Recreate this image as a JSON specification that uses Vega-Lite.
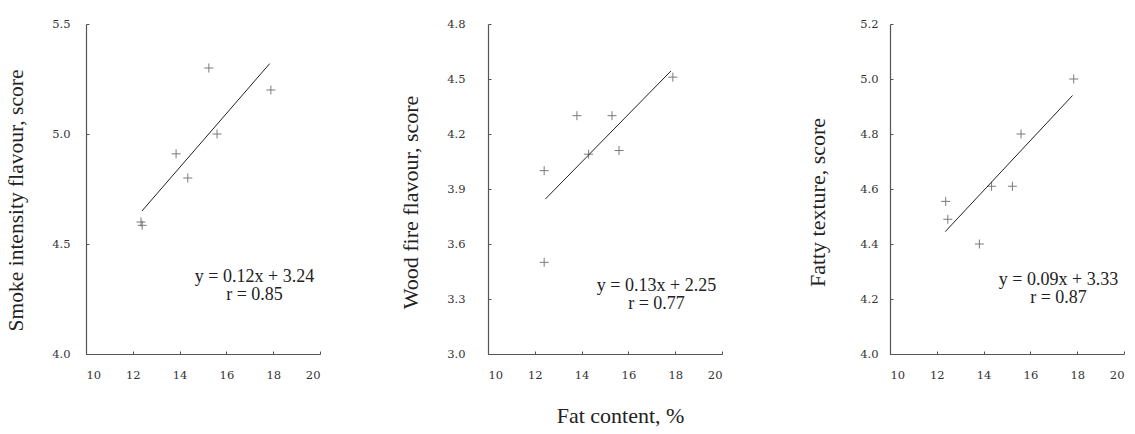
{
  "$schema": "https://vega.github.io/schema/vega-lite/v6.json",
  "background": "white",
  "padding": {"left": 5, "top": 18, "right": 2, "bottom": 2},
  "spacing": 168,
  "bounds": "flush",
  "config": {
    "view": {"stroke": null},
    "axis": {
      "grid": false,
      "domainColor": "#555",
      "domainWidth": 1.2,
      "tickColor": "#555",
      "tickSize": -3,
      "labelFont": "DejaVu Serif",
      "labelFontSize": 11.5,
      "labelColor": "#333",
      "titleFont": "Liberation Serif",
      "titleFontWeight": "normal",
      "titleColor": "#222"
    }
  },
  "datasets": {
    "pts": [
      {"panel": 1, "fat": 12.35, "score": 4.60},
      {"panel": 1, "fat": 12.4, "score": 4.585},
      {"panel": 1, "fat": 13.85, "score": 4.91},
      {"panel": 1, "fat": 14.35, "score": 4.80},
      {"panel": 1, "fat": 15.25, "score": 5.30},
      {"panel": 1, "fat": 15.6, "score": 5.00},
      {"panel": 1, "fat": 17.9, "score": 5.20},
      {"panel": 2, "fat": 12.4, "score": 4.00},
      {"panel": 2, "fat": 12.4, "score": 3.50},
      {"panel": 2, "fat": 13.8, "score": 4.30},
      {"panel": 2, "fat": 14.3, "score": 4.09},
      {"panel": 2, "fat": 15.3, "score": 4.30},
      {"panel": 2, "fat": 15.6, "score": 4.11},
      {"panel": 2, "fat": 17.9, "score": 4.51},
      {"panel": 3, "fat": 12.38, "score": 4.555},
      {"panel": 3, "fat": 12.47, "score": 4.49},
      {"panel": 3, "fat": 13.82, "score": 4.40},
      {"panel": 3, "fat": 14.34, "score": 4.61},
      {"panel": 3, "fat": 15.23, "score": 4.61},
      {"panel": 3, "fat": 15.6, "score": 4.80},
      {"panel": 3, "fat": 17.85, "score": 5.00}
    ],
    "fits": [
      {"panel": 1, "fat": 12.39, "score": 4.65},
      {"panel": 1, "fat": 17.85, "score": 5.32},
      {"panel": 2, "fat": 12.45, "score": 3.845},
      {"panel": 2, "fat": 17.82, "score": 4.544},
      {"panel": 3, "fat": 12.36, "score": 4.445},
      {"panel": 3, "fat": 17.8, "score": 4.94}
    ],
    "notes": [
      {"panel": 1, "fat": 17.2, "score": 4.35, "label": "y = 0.12x + 3.24\nr = 0.85"},
      {"panel": 2, "fat": 17.2, "score": 3.37, "label": "y = 0.13x + 2.25\nr = 0.77"},
      {"panel": 3, "fat": 17.2, "score": 4.27, "label": "y = 0.09x + 3.33\nr = 0.87"}
    ]
  },
  "hconcat": [
    {
      "width": 234, "height": 330,
      "layer": [
        {
          "data": {"name": "pts"},
          "transform": [{"filter": "datum.panel == 1"}],
          "mark": {"type": "point", "shape": "M-1,0L1,0M0,-1L0,1", "size": 81, "filled": false, "stroke": "#444", "strokeWidth": 1},
          "encoding": {
            "x": {"field": "fat", "type": "quantitative", "scale": {"domain": [10, 20], "nice": false, "zero": false},
                  "axis": {"values": [10, 12, 14, 16, 18, 20], "title": null, "labelPadding": 18}},
            "y": {"field": "score", "type": "quantitative", "scale": {"domain": [4.0, 5.5], "nice": false, "zero": false},
                  "axis": {"values": [4.0, 4.5, 5.0, 5.5], "format": ".1f", "title": "Smoke intensity flavour, score", "titleFontSize": 21.5, "titleY": 176, "labelPadding": 19, "titlePadding": 24}}
          }
        },
        {
          "data": {"name": "fits"},
          "transform": [{"filter": "datum.panel == 1"}],
          "mark": {"type": "line", "color": "#222", "strokeWidth": 1},
          "encoding": {"x": {"field": "fat", "type": "quantitative"}, "y": {"field": "score", "type": "quantitative"}}
        },
        {
          "data": {"name": "notes"},
          "transform": [{"filter": "datum.panel == 1"}],
          "mark": {"type": "text", "font": "Liberation Serif", "fontSize": 18, "lineHeight": 18, "lineBreak": "\n", "color": "#222", "align": "center", "baseline": "middle"},
          "encoding": {"x": {"field": "fat", "type": "quantitative"}, "y": {"field": "score", "type": "quantitative"}, "text": {"field": "label"}}
        }
      ]
    },
    {
      "width": 234, "height": 330,
      "layer": [
        {
          "data": {"name": "pts"},
          "transform": [{"filter": "datum.panel == 2"}],
          "mark": {"type": "point", "shape": "M-1,0L1,0M0,-1L0,1", "size": 81, "filled": false, "stroke": "#444", "strokeWidth": 1},
          "encoding": {
            "x": {"field": "fat", "type": "quantitative", "scale": {"domain": [10, 20], "nice": false, "zero": false},
                  "axis": {"values": [10, 12, 14, 16, 18, 20], "title": "Fat content, %", "titleFontSize": 22, "titlePadding": 25, "titleX": 132, "labelPadding": 18}},
            "y": {"field": "score", "type": "quantitative", "scale": {"domain": [3.0, 4.8], "nice": false, "zero": false},
                  "axis": {"values": [3.0, 3.3, 3.6, 3.9, 4.2, 4.5, 4.8], "format": ".1f", "title": "Wood fire flavour, score", "titleFontSize": 22, "titleY": 178, "labelPadding": 26, "titlePadding": 24}}
          }
        },
        {
          "data": {"name": "fits"},
          "transform": [{"filter": "datum.panel == 2"}],
          "mark": {"type": "line", "color": "#222", "strokeWidth": 1},
          "encoding": {"x": {"field": "fat", "type": "quantitative"}, "y": {"field": "score", "type": "quantitative"}}
        },
        {
          "data": {"name": "notes"},
          "transform": [{"filter": "datum.panel == 2"}],
          "mark": {"type": "text", "font": "Liberation Serif", "fontSize": 18, "lineHeight": 18, "lineBreak": "\n", "color": "#222", "align": "center", "baseline": "middle"},
          "encoding": {"x": {"field": "fat", "type": "quantitative"}, "y": {"field": "score", "type": "quantitative"}, "text": {"field": "label"}}
        }
      ]
    },
    {
      "width": 234, "height": 330,
      "layer": [
        {
          "data": {"name": "pts"},
          "transform": [{"filter": "datum.panel == 3"}],
          "mark": {"type": "point", "shape": "M-1,0L1,0M0,-1L0,1", "size": 81, "filled": false, "stroke": "#444", "strokeWidth": 1},
          "encoding": {
            "x": {"field": "fat", "type": "quantitative", "scale": {"domain": [10, 20], "nice": false, "zero": false},
                  "axis": {"values": [10, 12, 14, 16, 18, 20], "title": null, "labelPadding": 18}},
            "y": {"field": "score", "type": "quantitative", "scale": {"domain": [4.0, 5.2], "nice": false, "zero": false},
                  "axis": {"values": [4.0, 4.2, 4.4, 4.6, 4.8, 5.0, 5.2], "format": ".1f", "title": "Fatty texture, score", "titleFontSize": 22, "titleY": 178, "labelPadding": 15, "titlePadding": 30}}
          }
        },
        {
          "data": {"name": "fits"},
          "transform": [{"filter": "datum.panel == 3"}],
          "mark": {"type": "line", "color": "#222", "strokeWidth": 1},
          "encoding": {"x": {"field": "fat", "type": "quantitative"}, "y": {"field": "score", "type": "quantitative"}}
        },
        {
          "data": {"name": "notes"},
          "transform": [{"filter": "datum.panel == 3"}],
          "mark": {"type": "text", "font": "Liberation Serif", "fontSize": 18, "lineHeight": 18, "lineBreak": "\n", "color": "#222", "align": "center", "baseline": "middle"},
          "encoding": {"x": {"field": "fat", "type": "quantitative"}, "y": {"field": "score", "type": "quantitative"}, "text": {"field": "label"}}
        }
      ]
    }
  ]
}
